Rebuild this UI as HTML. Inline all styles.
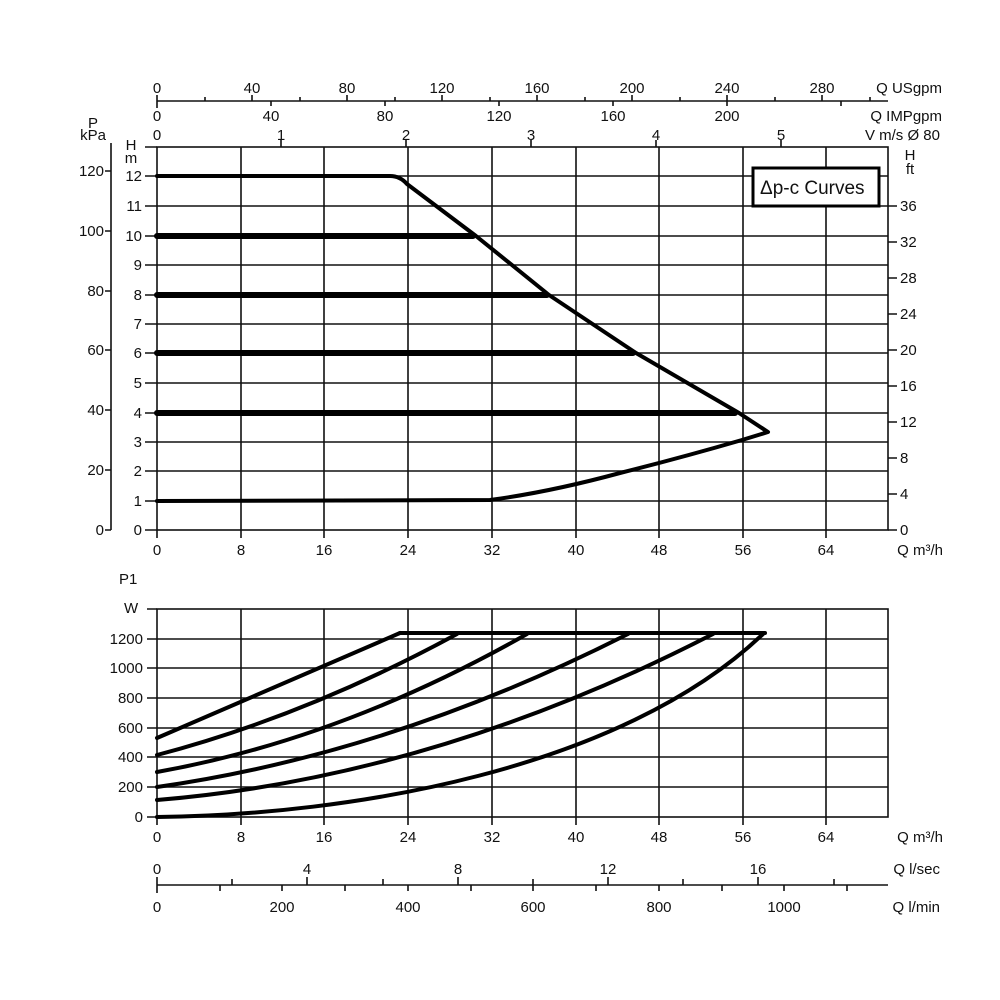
<!DOCTYPE html>
<html><head><meta charset="utf-8"><style>
body{margin:0;background:#fff}
svg{display:block}
text{font-family:"Liberation Sans",sans-serif;font-size:15px;fill:#111}
</style></head><body>
<svg width="1000" height="1000" viewBox="0 0 1000 1000" xmlns="http://www.w3.org/2000/svg">
<g stroke="#111" stroke-width="1.6" fill="none">
<rect x="157" y="147" width="731" height="383"/>
<path d="M241 147V530M324 147V530M408 147V530M492 147V530M576 147V530M659 147V530M743 147V530M826 147V530"/>
<path d="M157 176H888M157 206H888M157 236H888M157 265H888M157 295H888M157 324H888M157 353H888M157 383H888M157 413H888M157 442H888M157 471H888M157 501H888"/>
<path d="M145 147H157M145 176H157M145 206H157M145 236H157M145 265H157M145 295H157M145 324H157M145 353H157M145 383H157M145 413H157M145 442H157M145 471H157M145 501H157M145 530H157"/>
<path d="M111 143V530M105 171H111M105 231H111M105 291H111M105 350H111M105 410H111M105 470H111M105 530H111"/>
<path d="M888 206H897M888 242H897M888 278H897M888 314H897M888 350H897M888 386H897M888 422H897M888 458H897M888 494H897M888 530H897"/>
<path d="M157 530V538M241 530V538M324 530V538M408 530V538M492 530V538M576 530V538M659 530V538M743 530V538M826 530V538"/>
<path d="M157 101H888"/>
<path d="M157 95V108M205 97V101M252 95V101M300 97V101M347 95V101M395 97V101M442 95V101M490 97V101M537 95V101M585 97V101M632 95V101M680 97V101M727 95V101M775 97V101M822 95V101M870 97V101"/>
<path d="M271 101V106M385 101V106M499 101V106M613 101V106M727 101V106M841 101V106"/>
<path d="M281 140V147M406 140V147M531 140V147M656 140V147M781 140V147"/>
<rect x="157" y="609" width="731" height="208"/>
<path d="M241 609V817M324 609V817M408 609V817M492 609V817M576 609V817M659 609V817M743 609V817M826 609V817"/>
<path d="M157 639H888M157 668H888M157 698H888M157 728H888M157 757H888M157 787H888"/>
<path d="M147 609H157M147 639H157M147 668H157M147 698H157M147 728H157M147 757H157M147 787H157M147 817H157"/>
<path d="M157 817V825M241 817V825M324 817V825M408 817V825M492 817V825M576 817V825M659 817V825M743 817V825M826 817V825"/>
<path d="M157 885H888"/>
<path d="M157 877V893M232 879V885M307 877V885M383 879V885M458 877V885M533 879V885M608 877V885M683 879V885M758 877V885M834 879V885"/>
<path d="M220 885V891M282 885V891M345 885V891M408 885V891M471 885V891M533 885V891M596 885V891M659 885V891M722 885V891M784 885V891M847 885V891"/>
</g>
<g stroke="#000" fill="none" stroke-linejoin="round" stroke-linecap="round">
<path d="M157 176H390Q400 176 407 184L476 236L549 295L636 353L739 413L768 432L742 440Q680 458 620 473Q550 492 490 500L157 501" stroke-width="4"/>
<path d="M157 236H473M157 295H547M157 353H633M157 413H735" stroke-width="6"/>
<g stroke-width="4">
<path d="M400 633H765"/>
<path d="M157 738L400 633"/>
<path d="M157 755Q307 715.5 457 634"/>
<path d="M157 772Q342 739 527 634"/>
<path d="M157 787Q392 753.5 628 634"/>
<path d="M157 800Q435 777 713 634"/>
<path d="M157 817C350 815 620 770 763 634"/>
</g>
</g>
<rect x="753" y="168" width="126" height="38" fill="#fff" stroke="#000" stroke-width="3"/>
<text x="760" y="194" style="font-size:19px">Δp-c Curves</text>
<g text-anchor="middle">
<text x="157" y="93">0</text><text x="252" y="93">40</text><text x="347" y="93">80</text><text x="442" y="93">120</text><text x="537" y="93">160</text><text x="632" y="93">200</text><text x="727" y="93">240</text><text x="822" y="93">280</text>
<text x="157" y="121">0</text><text x="271" y="121">40</text><text x="385" y="121">80</text><text x="499" y="121">120</text><text x="613" y="121">160</text><text x="727" y="121">200</text>
<text x="157" y="140">0</text><text x="281" y="140">1</text><text x="406" y="140">2</text><text x="531" y="140">3</text><text x="656" y="140">4</text><text x="781" y="140">5</text>
<text x="157" y="555">0</text><text x="241" y="555">8</text><text x="324" y="555">16</text><text x="408" y="555">24</text><text x="492" y="555">32</text><text x="576" y="555">40</text><text x="659" y="555">48</text><text x="743" y="555">56</text><text x="826" y="555">64</text>
<text x="157" y="842">0</text><text x="241" y="842">8</text><text x="324" y="842">16</text><text x="408" y="842">24</text><text x="492" y="842">32</text><text x="576" y="842">40</text><text x="659" y="842">48</text><text x="743" y="842">56</text><text x="826" y="842">64</text>
<text x="157" y="874">0</text><text x="307" y="874">4</text><text x="458" y="874">8</text><text x="608" y="874">12</text><text x="758" y="874">16</text>
<text x="157" y="912">0</text><text x="282" y="912">200</text><text x="408" y="912">400</text><text x="533" y="912">600</text><text x="659" y="912">800</text><text x="784" y="912">1000</text>
<text x="93" y="128">P</text><text x="93" y="140">kPa</text>
<text x="131" y="150">H</text><text x="131" y="163">m</text>
<text x="910" y="160">H</text><text x="910" y="174">ft</text>
</g>
<g text-anchor="end">
<text x="942" y="93">Q USgpm</text>
<text x="942" y="121">Q IMPgpm</text>
<text x="940" y="140">V m/s Ø 80</text>
<text x="943" y="555">Q m³/h</text>
<text x="943" y="842">Q m³/h</text>
<text x="940" y="874">Q l/sec</text>
<text x="940" y="912">Q l/min</text>
<text x="104" y="176">120</text><text x="104" y="236">100</text><text x="104" y="296">80</text><text x="104" y="355">60</text><text x="104" y="415">40</text><text x="104" y="475">20</text><text x="104" y="535">0</text>
<text x="142" y="181">12</text><text x="142" y="211">11</text><text x="142" y="241">10</text><text x="142" y="270">9</text><text x="142" y="300">8</text><text x="142" y="329">7</text><text x="142" y="358">6</text><text x="142" y="388">5</text><text x="142" y="418">4</text><text x="142" y="447">3</text><text x="142" y="476">2</text><text x="142" y="506">1</text><text x="142" y="535">0</text>
<text x="143" y="644">1200</text><text x="143" y="673">1000</text><text x="143" y="703">800</text><text x="143" y="733">600</text><text x="143" y="762">400</text><text x="143" y="792">200</text><text x="143" y="822">0</text>
</g>
<g text-anchor="start">
<text x="900" y="211">36</text><text x="900" y="247">32</text><text x="900" y="283">28</text><text x="900" y="319">24</text><text x="900" y="355">20</text><text x="900" y="391">16</text><text x="900" y="427">12</text><text x="900" y="463">8</text><text x="900" y="499">4</text><text x="900" y="535">0</text>
<text x="119" y="584">P1</text><text x="124" y="613">W</text>
</g>
</svg>
</body></html>
